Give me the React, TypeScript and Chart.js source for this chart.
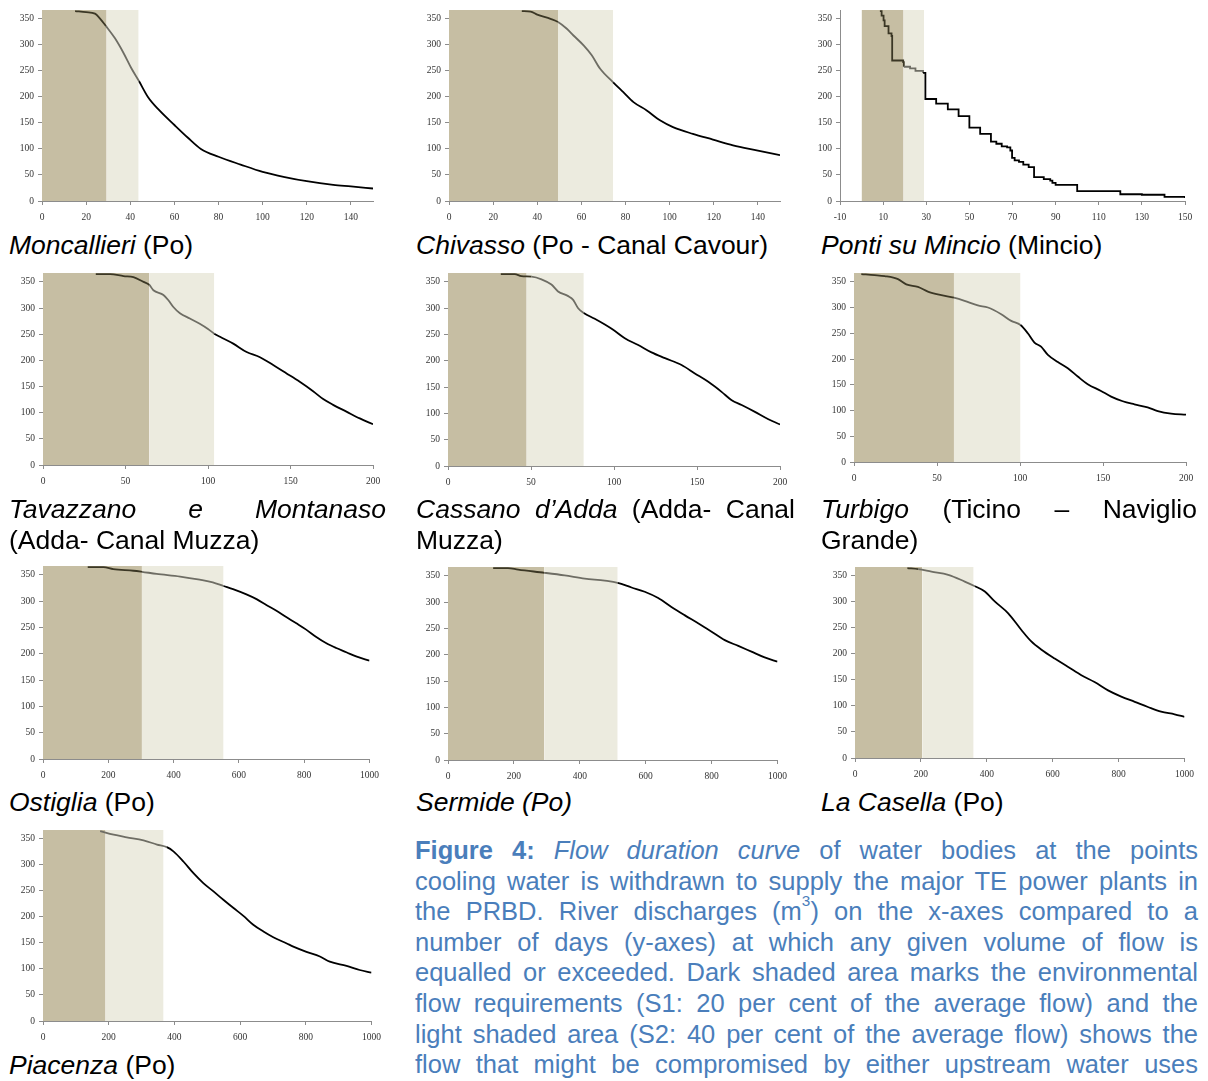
import React, { useEffect, useRef } from "react";
import { Chart, registerables } from "chart.js";

Chart.register(...registerables);

// Discharge (x) against number of days the flow is equalled or exceeded (y)
const moncalieriQ = [15, 20, 24, 26, 29, 33, 37, 40.5, 44, 48, 53, 60, 66, 72, 80, 90, 100, 110, 120, 132, 140, 150];
const moncalieriDays = [365, 363, 360, 352, 336, 313, 284, 255, 230, 200, 175, 146, 122, 100, 85, 70, 56, 46, 38, 31, 28, 24];

const chivassoQ = [33, 37, 40, 46, 49.4, 53.4, 56.4, 61, 64.7, 68.5, 74.4, 79, 83.6, 89.6, 95.6, 101.5, 110.5, 119.6, 128.7, 140, 150];
const chivassoDays = [365, 364, 358, 350, 344, 331, 318, 299, 280, 254, 228, 209, 190, 174, 155, 142, 129, 118, 107, 97, 88];

const pontiQ = [8.5, 9.3, 10.2, 10.7, 12.5, 13.9, 14.2, 19.3, 19.6, 22.5, 25, 28.5, 29.6, 34.6, 40, 45, 50, 55, 60, 62.5, 65, 67.5, 69, 69.8, 71, 73, 75, 77.5, 80, 84.5, 87.5, 88.5, 90, 100, 120, 130, 140.5, 150];
const pontiDays = [365, 356, 347, 336, 322, 317, 270, 267, 258, 255, 250, 246, 196, 187, 176, 163, 141, 129, 114, 110, 105, 103, 97, 83, 78, 75, 70, 65, 46, 42, 39, 35, 31, 19, 13, 12, 8, 6];

const tavazzanoQ = [32, 40.7, 48.8, 54.8, 60.9, 64.5, 66.9, 73, 76, 79, 83, 89, 95, 100, 103.8, 107.3, 115.3, 123.4, 131.5, 139.5, 147.6, 155.6, 163.7, 169.8, 175.8, 183.9, 192, 200];
const tavazzanoDays = [365, 365, 361, 359, 350, 344, 334, 325, 315, 302, 290, 280, 270, 260, 251, 245, 232, 216, 206, 191, 175, 159, 141, 126, 115, 102, 89, 78];

const cassanoQ = [31.8, 40.2, 44.2, 50.3, 56.3, 62.3, 66.3, 72.4, 75.4, 78.4, 81.8, 88.4, 94.5, 99.5, 106.5, 114.6, 122.6, 130.7, 140.7, 148.7, 156.8, 164.8, 170.9, 176.9, 184.9, 193, 200];
const cassanoDays = [365, 365, 361, 360, 355, 345, 332, 323, 316, 300, 291, 280, 269, 259, 243, 230, 216, 205, 192, 176, 160, 141, 125, 116, 103, 89, 79];

const turbigoQ = [4.4, 12.4, 18.5, 26.5, 31.5, 38.5, 44.5, 52.6, 60.2, 66.6, 74.6, 80.7, 88.7, 94.7, 100.3, 104.7, 108.7, 112.7, 116.8, 122.8, 128.8, 134.8, 140.8, 148.8, 154.9, 161.9, 168.9, 176.9, 183, 191, 200];
const turbigoDays = [365, 363, 361, 355, 345, 340, 331, 324, 319, 313, 304, 300, 287, 274, 266, 250, 232, 224, 208, 194, 182, 166, 151, 138, 127, 118, 112, 106, 99, 94, 92];

const ostigliaQ = [137, 185, 215, 277, 303, 348, 420, 480, 520, 553, 582, 623, 654, 684, 715, 745, 776, 806, 837, 868, 898, 929, 959, 1000];
const ostigliaDays = [365, 365, 361, 358, 356, 352, 347, 341, 336, 329, 323, 313, 304, 293, 282, 270, 258, 246, 232, 220, 211, 203, 195, 187];

const sermideQ = [137, 182, 213, 293, 354, 415, 476, 515, 557, 597, 638, 678, 719, 759, 800, 840, 881, 921, 961, 1000];
const sermideDays = [365, 365, 362, 356, 351, 345, 341, 337, 328, 320, 308, 291, 275, 260, 244, 228, 217, 206, 195, 187];

const casellaQ = [159, 192, 232, 283, 333, 364, 394, 424, 465, 505, 535, 566, 606, 647, 687, 727, 768, 808, 849, 889, 929, 970, 1000];
const casellaDays = [365, 363, 358, 352, 339, 330, 320, 301, 278, 246, 224, 208, 191, 175, 159, 146, 130, 118, 108, 98, 89, 84, 79];

const piacenzaQ = [174, 215, 255, 306, 347, 377, 397, 428, 458, 488, 519, 549, 580, 610, 640, 671, 701, 742, 762, 802, 843, 873, 924, 964, 1000];
const piacenzaDays = [365, 358, 353, 347, 339, 334, 326, 306, 284, 265, 249, 233, 217, 202, 185, 172, 161, 149, 143, 133, 124, 114, 106, 98, 93];

// Environmental flow thresholds: S1 (20 % of mean flow) and S2 (40 % of mean flow)
const s1Values = [29.3, 49.4, 19.5, 64.5, 47.4, 60.2, 303, 292.5, 204, 190.5];
const s2Values = [43.8, 74.4, 29, 103.8, 81.8, 100.3, 553, 515, 360, 367];

// Tick labels
const ticks150 = [0, 20, 40, 60, 80, 100, 120, 140];
const ticksPonti = [-10, 10, 30, 50, 70, 90, 110, 130, 150];
const ticks200 = [0, 50, 100, 150, 200];
const ticks1000 = [0, 200, 400, 600, 800, 1000];
const dayTicks = [0, 50, 100, 150, 200, 250, 300, 350];
const DAYS_MAX = 367;

const DARK_FILL = "#c6bea3";
const LIGHT_FILL = "#ecebdf";
const DARK_LINE = "#3b3725";
const LIGHT_LINE = "#6e6d64";
const AXIS = "#8c8c8c";

type PanelSpec = {
  q: number[];
  days: number[];
  s1: number;
  s2: number;
  xMin: number;
  xMax: number;
  xTicks: number[];
  stepped?: boolean;
  // plot area on the page: left, right, top, bottom
  box: [number, number, number, number];
};

const panels: PanelSpec[] = [
  { q: moncalieriQ, days: moncalieriDays, s1: s1Values[0], s2: s2Values[0], xMin: 0, xMax: 150, xTicks: ticks150, box: [42, 373, 10, 201] },
  { q: chivassoQ, days: chivassoDays, s1: s1Values[1], s2: s2Values[1], xMin: 0, xMax: 150, xTicks: ticks150, box: [449, 780, 10, 201] },
  { q: pontiQ, days: pontiDays, s1: s1Values[2], s2: s2Values[2], xMin: -10, xMax: 150, xTicks: ticksPonti, stepped: true, box: [840, 1185, 10, 201] },
  { q: tavazzanoQ, days: tavazzanoDays, s1: s1Values[3], s2: s2Values[3], xMin: 0, xMax: 200, xTicks: ticks200, box: [43, 373, 273, 465] },
  { q: cassanoQ, days: cassanoDays, s1: s1Values[4], s2: s2Values[4], xMin: 0, xMax: 200, xTicks: ticks200, box: [448, 780, 273, 466] },
  { q: turbigoQ, days: turbigoDays, s1: s1Values[5], s2: s2Values[5], xMin: 0, xMax: 200, xTicks: ticks200, box: [854, 1186, 273, 462] },
  { q: ostigliaQ, days: ostigliaDays, s1: s1Values[6], s2: s2Values[6], xMin: 0, xMax: 1000, xTicks: ticks1000, box: [43, 370, 566, 759] },
  { q: sermideQ, days: sermideDays, s1: s1Values[7], s2: s2Values[7], xMin: 0, xMax: 1000, xTicks: ticks1000, box: [448, 778, 567, 760] },
  { q: casellaQ, days: casellaDays, s1: s1Values[8], s2: s2Values[8], xMin: 0, xMax: 1000, xTicks: ticks1000, box: [855, 1185, 567, 758] },
  { q: piacenzaQ, days: piacenzaDays, s1: s1Values[9], s2: s2Values[9], xMin: 0, xMax: 1000, xTicks: ticks1000, box: [43, 372, 830, 1021] },
];

// Room around each plot area; the top must exceed the label half-height + tick padding
const PAD_TOP = 12;
const PAD_RIGHT = 16;
const Y_AXIS_W = 40;
const X_AXIS_H = 26;
const tickFont = { family: "'Liberation Serif', 'Times New Roman', serif", size: 9.5 };

function FlowPanel({ spec }: { spec: PanelSpec }) {
  const ref = useRef<HTMLCanvasElement | null>(null);
  const [l, r, t, b] = spec.box;
  const width = r - l + Y_AXIS_W + PAD_RIGHT;
  const height = b - t + PAD_TOP + X_AXIS_H;

  useEffect(() => {
    if (!ref.current) return;
    const curve = spec.q.map((x, i) => ({ x, y: spec.days[i] }));
    const chart = new Chart(ref.current, {
      type: "line",
      data: {
        datasets: [
          {
            data: curve,
            borderColor: "#000",
            borderWidth: 1.8,
            pointRadius: 0,
            fill: false,
            cubicInterpolationMode: spec.stepped ? "default" : "monotone",
            tension: 0,
            stepped: spec.stepped ? "before" : false,
            segment: {
              borderColor: (ctx: any) => {
                const mid = (spec.q[ctx.p0DataIndex] + spec.q[ctx.p1DataIndex]) / 2;
                if (mid < spec.s1) return DARK_LINE;
                if (mid < spec.s2) return LIGHT_LINE;
                return "#000";
              },
            },
          } as any,
          {
            data: [
              { x: 0, y: DAYS_MAX },
              { x: spec.s1, y: DAYS_MAX },
            ],
            fill: "origin",
            backgroundColor: DARK_FILL,
            borderColor: "rgba(0,0,0,0)",
            borderWidth: 0,
            pointRadius: 0,
          },
          {
            data: [
              { x: spec.s1, y: DAYS_MAX },
              { x: spec.s2, y: DAYS_MAX },
            ],
            fill: "origin",
            backgroundColor: LIGHT_FILL,
            borderColor: "rgba(0,0,0,0)",
            borderWidth: 0,
            pointRadius: 0,
          },
        ],
      },
      options: {
        animation: false,
        responsive: false,
        maintainAspectRatio: false,
        events: [],
        layout: { padding: { top: PAD_TOP, right: PAD_RIGHT, left: 0, bottom: 0 } },
        plugins: { legend: { display: false }, tooltip: { enabled: false } },
        scales: {
          x: {
            type: "linear",
            min: spec.xMin,
            max: spec.xMax,
            afterBuildTicks: (scale: any) => {
              scale.ticks = spec.xTicks.map((v) => ({ value: v }));
            },
            afterFit: (scale: any) => {
              scale.height = X_AXIS_H;
            },
            ticks: {
              autoSkip: false,
              maxRotation: 0,
              padding: 7,
              color: "#333",
              font: tickFont,
              callback: (v: any) => String(v),
            },
            grid: { display: true, drawOnChartArea: false, drawTicks: true, tickLength: 4, color: AXIS },
            border: { display: true, color: AXIS, width: 1 },
          },
          y: {
            type: "linear",
            min: 0,
            max: DAYS_MAX,
            afterBuildTicks: (scale: any) => {
              scale.ticks = dayTicks.map((v) => ({ value: v }));
            },
            afterFit: (scale: any) => {
              scale.width = Y_AXIS_W;
            },
            ticks: {
              padding: 4,
              color: "#333",
              font: tickFont,
              callback: (v: any) => String(v),
            },
            grid: { display: true, drawOnChartArea: false, drawTicks: true, tickLength: 4, color: AXIS },
            border: { display: true, color: AXIS, width: 1 },
          },
        },
      } as any,
    });
    return () => chart.destroy();
  }, []);

  return (
    <canvas
      ref={ref}
      width={width}
      height={height}
      style={{ position: "absolute", left: l - Y_AXIS_W, top: t - PAD_TOP, width, height }}
    />
  );
}

const labelFont: React.CSSProperties = {
  position: "absolute",
  fontFamily: "'Liberation Sans', Arial, sans-serif",
  fontSize: 26.5,
  lineHeight: "30.8px",
  color: "#000",
  margin: 0,
};

const justified: React.CSSProperties = { textAlign: "justify", textAlignLast: "justify" } as React.CSSProperties;

function Label({ left, top, width, lines }: { left: number; top: number; width: number; lines: React.ReactNode[] }) {
  return (
    <div style={{ ...labelFont, left, top, width }}>
      {lines.map((ln, i) => (
        <div key={i} style={i < lines.length - 1 ? justified : { textAlign: "left" }}>
          {ln}
        </div>
      ))}
    </div>
  );
}

export default function App() {
  const cap: React.CSSProperties = {
    ...labelFont,
    left: 415,
    top: 835,
    width: 783,
    fontSize: 25.5,
    lineHeight: "30.6px",
    color: "#4a7ebb",
  };
  return (
    <div style={{ position: "absolute", left: 0, top: 0, width: 1208, height: 1081, background: "#fff", overflow: "hidden" }}>
      {panels.map((p, i) => (
        <FlowPanel key={i} spec={p} />
      ))}

      <Label left={9} top={230} width={377} lines={[<><i>Moncallieri</i> (Po)</>]} />
      <Label left={416} top={230} width={379} lines={[<><i>Chivasso</i> (Po - Canal Cavour)</>]} />
      <Label left={821} top={230} width={376} lines={[<><i>Ponti su Mincio</i> (Mincio)</>]} />

      <Label left={9} top={494} width={377} lines={[<><i>Tavazzano e Montanaso</i></>, <>(Adda- Canal Muzza)</>]} />
      <Label left={416} top={494} width={379} lines={[<><i>Cassano d’Adda</i> (Adda- Canal</>, <>Muzza)</>]} />
      <Label left={821} top={494} width={376} lines={[<><i>Turbigo</i> (Ticino – Naviglio</>, <>Grande)</>]} />

      <Label left={9} top={787} width={377} lines={[<><i>Ostiglia</i> (Po)</>]} />
      <Label left={416} top={787} width={379} lines={[<><i>Sermide (Po)</i></>]} />
      <Label left={821} top={787} width={376} lines={[<><i>La Casella</i> (Po)</>]} />

      <Label left={9} top={1050} width={377} lines={[<><i>Piacenza</i> (Po)</>]} />

      <div style={cap}>
        <div style={justified}>
          <b>Figure 4:</b> <i>Flow duration curve</i> of water bodies at the points
        </div>
        <div style={justified}>cooling water is withdrawn to supply the major TE power plants in</div>
        <div style={justified}>
          the PRBD. River discharges (m<sup style={{ fontSize: "0.6em", lineHeight: 0, verticalAlign: "0.9em" }}>3</sup>) on the x-axes compared to a
        </div>
        <div style={justified}>number of days (y-axes) at which any given volume of flow is</div>
        <div style={justified}>equalled or exceeded. Dark shaded area marks the environmental</div>
        <div style={justified}>flow requirements (S1: 20 per cent of the average flow) and the</div>
        <div style={justified}>light shaded area (S2: 40 per cent of the average flow) shows the</div>
        <div style={justified}>flow that might be compromised by either upstream water uses</div>
      </div>
    </div>
  );
}
